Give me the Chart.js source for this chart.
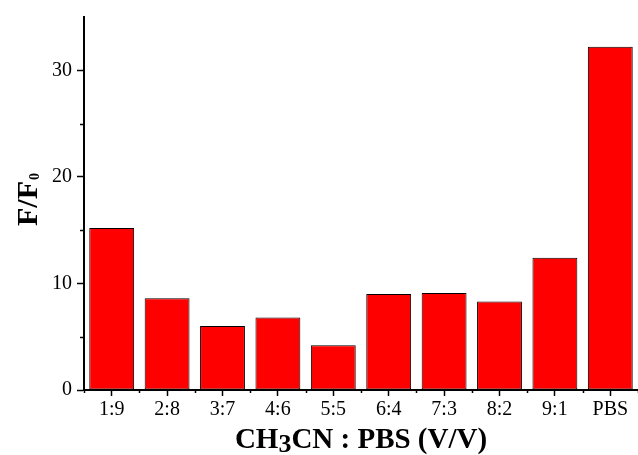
<!DOCTYPE html>
<html>
<head>
<meta charset="utf-8">
<script src="https://cdn.jsdelivr.net/npm/chart.js@4"></script>
<style>
    html, body { margin: 0; padding: 0; background: #fff; }
    #wrap { width: 638px; height: 455px; position: relative; }
</style>
</head>
<body>
<div id="wrap"><canvas id="chart"></canvas></div>
<script>
// data
const categories = ['1:9', '2:8', '3:7', '4:6', '5:5', '6:4', '7:3', '8:2', '9:1', 'PBS'];
const ratioValues = [15.2, 8.6, 6.0, 6.8, 4.2, 9.0, 9.1, 8.3, 12.4, 32.2];
const yMajorTicks = [0, 10, 20, 30];
const yMinorTicks = [5, 15, 25];

const serif = "'Liberation Serif', 'Times New Roman', serif";

// minor ticks + axis titles with subscripts
const extrasPlugin = {
    id: 'extras',
    afterDraw(chart) {
        const ctx = chart.ctx;
        const area = chart.chartArea;
        const xs = chart.scales.x;
        const ys = chart.scales.y;

        ctx.save();
        ctx.strokeStyle = '#000';
        ctx.lineWidth = 1.5;
        ctx.beginPath();
        yMinorTicks.forEach((v) => {
            const py = Math.round(ys.getPixelForValue(v)) + 0.5;
            ctx.moveTo(area.left - 4, py);
            ctx.lineTo(area.left, py);
        });
        const half = (xs.getPixelForValue(1) - xs.getPixelForValue(0)) / 2;
        for (let i = 0; i <= categories.length; i++) {
            const px = Math.round(xs.getPixelForValue(i) - half) + 0.5;
            ctx.moveTo(px, area.bottom);
            ctx.lineTo(px, area.bottom + 3);
        }
        ctx.stroke();

        ctx.fillStyle = '#000';
        ctx.textBaseline = 'alphabetic';
        ctx.textAlign = 'left';

        // x title: CH3CN : PBS (V/V)
        const bigFont = 'bold 29px ' + serif;
        const subFont = 'bold 26px ' + serif;
        ctx.font = bigFont;
        const w1 = ctx.measureText('CH').width;
        const w3 = ctx.measureText('CN : PBS (V/V)').width;
        ctx.font = subFont;
        const w2 = ctx.measureText('3').width;
        let x = (area.left + area.right) / 2 - (w1 + w2 + w3) / 2;
        const base = 448;
        ctx.font = bigFont;
        ctx.fillText('CH', x, base);
        ctx.font = subFont;
        ctx.fillText('3', x + w1, base + 4);
        ctx.font = bigFont;
        ctx.fillText('CN : PBS (V/V)', x + w1 + w2, base);

        // y title: F/F0
        ctx.translate(37, (area.top + area.bottom) / 2 - 4);
        ctx.rotate(-Math.PI / 2);
        ctx.font = 'bold 30px ' + serif;
        const wf = ctx.measureText('F/F').width;
        ctx.font = 'bold 14px ' + serif;
        const w0 = ctx.measureText('0').width;
        const start = -(wf + w0 + 1) / 2;
        ctx.font = 'bold 30px ' + serif;
        ctx.fillText('F/F', start, 0);
        ctx.font = 'bold 14px ' + serif;
        ctx.fillText('0', start + wf + 1, 2);
        ctx.restore();
    },
};

new Chart(document.getElementById('chart'), {
    type: 'bar',
    data: {
        labels: categories,
        datasets: [{
            data: ratioValues,
            backgroundColor: '#ff0000',
            borderColor: '#000',
            borderWidth: 1,
            borderSkipped: false,
            categoryPercentage: 1,
            barPercentage: 0.81,
        }],
    },
    options: {
        responsive: true,
        maintainAspectRatio: false,
        animation: false,
        layout: { padding: { top: 14, right: 0, left: 0, bottom: 0 } },
        plugins: {
            legend: { display: false },
            tooltip: { enabled: false },
        },
        scales: {
            x: {
                offset: true,
                grid: {
                    offset: false,
                    drawOnChartArea: false,
                    tickLength: 6,
                    tickColor: '#000',
                    tickWidth: 1.5,
                },
                border: { color: '#000', width: 2 },
                ticks: {
                    color: '#000',
                    font: { family: serif, size: 20 },
                    padding: 2,
                    maxRotation: 0,
                    autoSkip: false,
                },
                afterFit: (scale) => { scale.height = 65; },
            },
            y: {
                min: 0,
                max: 35,
                afterBuildTicks: (scale) => {
                    scale.ticks = yMajorTicks.map((v) => ({ value: v }));
                },
                grid: {
                    drawOnChartArea: false,
                    tickLength: 7,
                    tickColor: '#000',
                    tickWidth: 1.5,
                },
                border: { color: '#000', width: 2 },
                ticks: {
                    color: '#000',
                    font: { family: serif, size: 20 },
                    padding: 5,
                },
                afterFit: (scale) => { scale.width = 84; },
            },
        },
    },
    plugins: [extrasPlugin],
});
</script>
</body>
</html>
